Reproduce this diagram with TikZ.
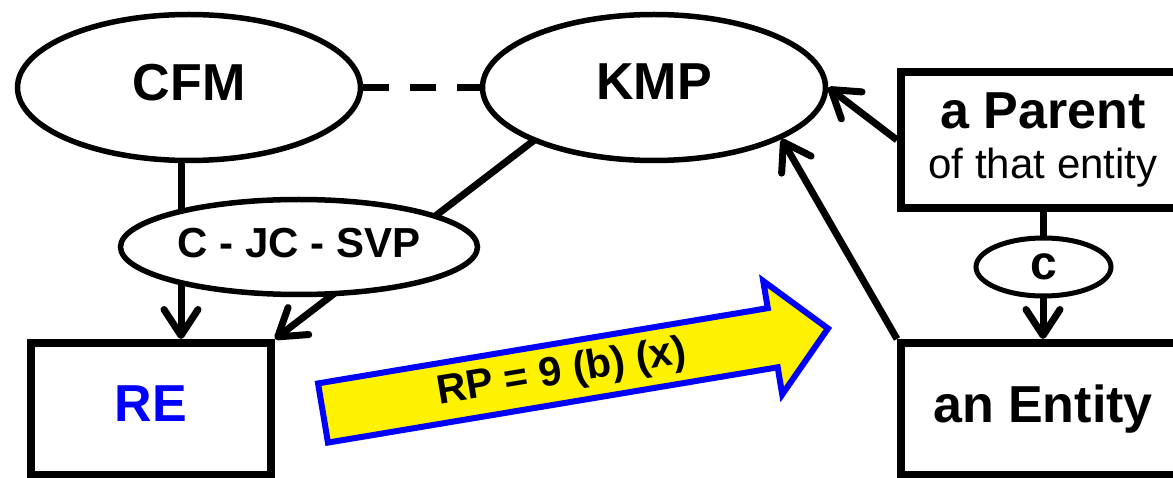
\documentclass[tikz,border=0pt]{standalone}
\usepackage{fontspec}
\setmainfont{Liberation Sans}
\usetikzlibrary{arrows.meta,shapes.geometric}
\pgfdeclarelayer{bg}
\pgfsetlayers{bg,main}
\begin{document}
\begin{tikzpicture}[x=1pt,y=-1pt,
  ell/.style={ellipse, draw, line width=5.5pt, fill=white, inner sep=0pt},
  box/.style={rectangle, draw, line width=8pt, fill=white, inner sep=0pt},
  big/.style={font=\fontsize{52}{60}\selectfont\bfseries},
  conn/.style={line width=7pt},
  arr/.style={conn, -{Straight Barb[length=26pt,width=34pt,round]}},
  dashconn/.style={line width=7pt, dash pattern=on 26pt off 21pt},
  bigarrow/.style={line width=6pt, draw=blue, fill=yellow, line join=miter}
]
\useasboundingbox (0,0) rectangle (1173,478);
\clip (0,0) rectangle (1173,478);

\node[ell, minimum width=343pt, minimum height=146pt, big] (cfm) at (189,87.5) {\vphantom{Ay}CFM};
\node[ell, minimum width=343pt, minimum height=146pt, big] (kmp) at (654,87.5) {\vphantom{Ay}KMP};
\node[ell, minimum width=357pt, minimum height=95pt, font=\fontsize{42}{50}\selectfont\bfseries] (svp) at (299,247) {\vphantom{y}C - JC - SVP};
\node[ell, line width=5pt, minimum width=135pt, minimum height=58pt, font=\fontsize{48}{50}\selectfont\bfseries] (c) at (1043.5,267) {c};
\node[box, minimum width=240pt, minimum height=132pt, big, text=blue] (re) at (151,409) {\vphantom{Ay}RE};
\node[box, minimum width=284pt, minimum height=136pt, align=center, font=\fontsize{42}{50}\selectfont] (parent) at (1043,140) {{\fontsize{52}{50}\selectfont\bfseries a Parent}\\of that entity};
\node[box, minimum width=284pt, minimum height=132pt, big] (entity) at (1043,409) {an Entity};

\coordinate (cfmin) at (181,87);
\coordinate (kmpin) at (560,120.4);

\draw[dashconn] (cfm.east) -- (kmp.west);

\begin{pgfonlayer}{bg}
\draw[arr] (cfmin) -- (cfmin |- re.north);
\draw[arr] (kmpin) -- (re.north east);
\draw[arr] (parent.center) -- (entity.north);
\end{pgfonlayer}

\draw[arr] (parent.west) -- (kmp.east);
\draw[arr] (entity.north west) -- (kmp.-22.5);

\begin{scope}[shift={(323,413)}, rotate=9.5]
\draw[bigarrow] (0,-30) -- (456,-30) -- (456,-57.5) -- (512,0) -- (456,57.5) -- (456,30) -- (0,30) -- cycle;
\node[rotate=9.5, font=\fontsize{41}{45}\selectfont\bfseries] (rp) at (242,0) {RP = 9 (b) (x)};
\end{scope}
\end{tikzpicture}
\end{document}
